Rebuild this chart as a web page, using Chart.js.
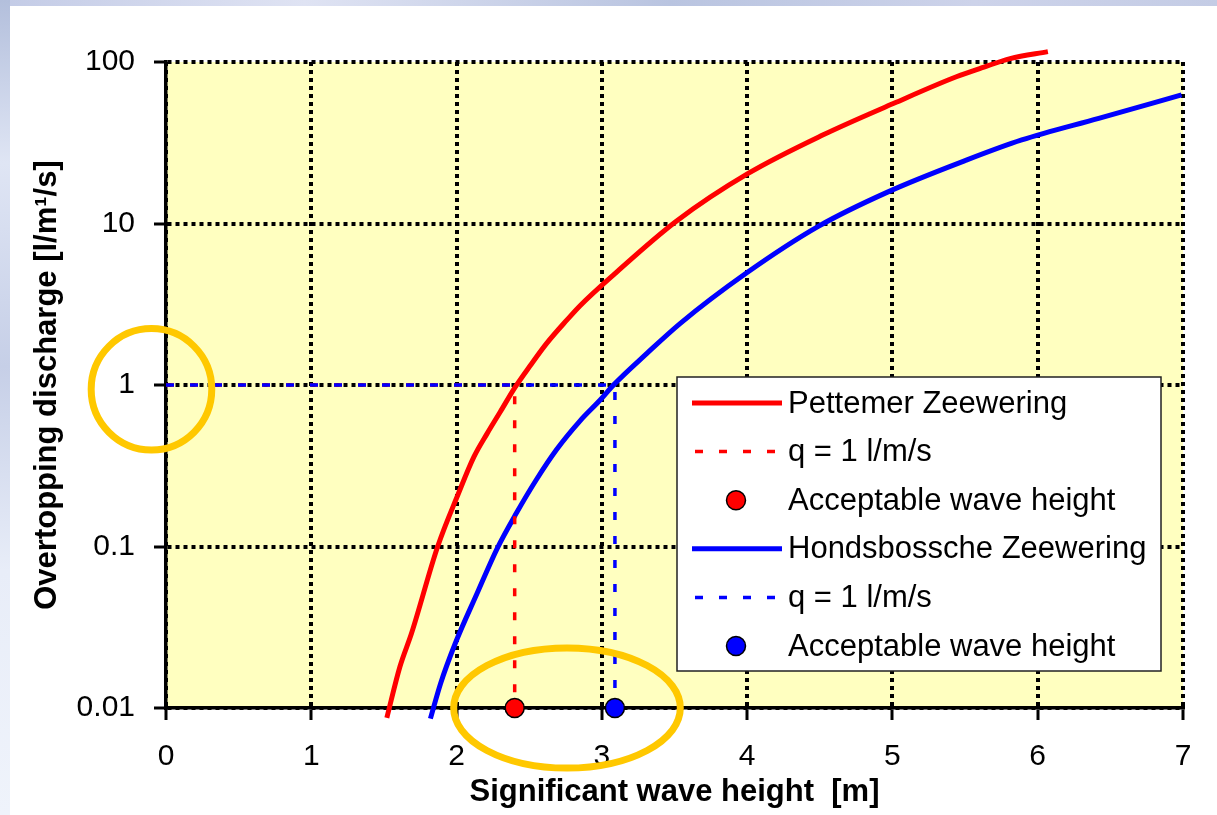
<!DOCTYPE html>
<html>
<head>
<meta charset="utf-8">
<title>Overtopping discharge</title>
<script src="https://cdn.jsdelivr.net/npm/chart.js@4.4.1/dist/chart.umd.min.js"></script>
<style>
  html, body { margin: 0; padding: 0; background: #fff; }
  body { width: 1217px; height: 815px; position: relative; overflow: hidden; }
  #top { position: absolute; left: 0; top: 0; width: 1217px; height: 6px;
    background: linear-gradient(90deg, #c3cbe6, #dfe3f3 25%, #b9c4e0 55%, #cdd3ea 80%, #c4cce5); }
  #left { position: absolute; left: 0; top: 0; width: 10px; height: 815px;
    background: linear-gradient(180deg, #b3bfdc, #dfe5f4 20%, #c6cfe7 45%, #e8edf8 70%, #eff3fb); }
  canvas { position: absolute; left: 0; top: 0; }
</style>
</head>
<body>
<div id="top"></div><div id="left"></div>
<canvas id="chart" width="1217" height="815"></canvas>
<script>
const FONT = '"Liberation Sans", Arial, sans-serif';

// axes
const heightMin = 0;
const heightMax = 7;
const dischargeTicks = [0.01, 0.1, 1, 10, 100];
const dischargeLabels = ['0.01', '0.1', '1', '10', '100'];

// Pettemer Zeewering: wave height [m] vs discharge [l/m/s]
const pettemerHs = [1.52, 1.61, 1.69, 1.87, 2.01, 2.12, 2.21, 2.30, 2.40, 2.51, 2.62, 2.76, 2.85, 3.09, 3.51, 4.01, 4.52, 5.01, 5.44, 5.63, 5.81, 6.07];
const pettemerQ  = [0.0087, 0.018, 0.029, 0.10, 0.21, 0.36, 0.50, 0.68, 0.96, 1.33, 1.81, 2.53, 3.1, 4.9, 10.3, 20.5, 35.3, 55.5, 81, 93, 105, 116];

// Hondsbossche Zeewering
const hondsHs = [1.82, 1.89, 1.99, 2.14, 2.28, 2.41, 2.55, 2.69, 2.85, 2.99, 3.08, 3.31, 3.54, 3.99, 4.49, 4.97, 5.50, 5.89, 6.42, 6.99];
const hondsQ  = [0.0086, 0.0142, 0.025, 0.051, 0.0975, 0.16, 0.26, 0.40, 0.60, 0.81, 1.0, 1.57, 2.41, 4.9, 9.6, 15.7, 24.5, 32.9, 44.8, 62.5];

// q = 1 l/m/s limit and acceptable wave heights
const qLimit = 1;
const axisFloor = 0.01;
const pettemerAccepted = 2.40;
const hondsAccepted = 3.09;

// highlight rings: centre (x in m, y in l/m/s), radii (x in m, y in decades)
const rings = [
  { x: -0.10, y: 0.94, rx: 0.415, ry: 0.376 },
  { x: 2.76, y: 0.01, rx: 0.78, ry: 0.372 },
];

const toPoints = (xs, ys) => xs.map((x, i) => ({ x, y: ys[i] }));
const limitPath = h => [{ x: heightMin, y: qLimit }, { x: h, y: qLimit }, { x: h, y: axisFloor }];

const curve = (label, color, xs, ys) => ({
  label, data: toPoints(xs, ys),
  borderColor: color, borderWidth: 5, pointRadius: 0,
  cubicInterpolationMode: 'monotone', order: 3,
  clip: { left: 0, top: 15, right: 0, bottom: 12 },
});
const limit = (color, h, order) => ({
  label: 'q = 1 l/m/s', data: limitPath(h),
  borderColor: color, borderWidth: 3.5, borderDash: [8, 16], pointRadius: 0, order,
});
const dot = (color, h) => ({
  label: 'Acceptable wave height', data: [{ x: h, y: axisFloor }],
  showLine: false, pointRadius: 9.5, pointHoverRadius: 9.5, pointBorderWidth: 1.5,
  borderColor: '#000', backgroundColor: color, order: 0, clip: false,
});

const plotBackground = {
  id: 'plotBackground',
  beforeDraw(chart) {
    const { ctx, chartArea: a } = chart;
    ctx.save();
    ctx.fillStyle = '#FFFFC0';
    ctx.fillRect(a.left, a.top, a.right - a.left, a.bottom - a.top);
    ctx.restore();
  },
};

const overlay = {
  id: 'overlay',
  afterDraw(chart) {
    const { ctx } = chart;
    const xs = chart.scales.x, ys = chart.scales.y;

    // legend box
    const box = { left: 677, top: 377, width: 484, height: 294 };
    ctx.save();
    ctx.fillStyle = '#fff';
    ctx.fillRect(box.left, box.top, box.width, box.height);
    ctx.strokeStyle = '#222';
    ctx.lineWidth = 1.5;
    ctx.strokeRect(box.left, box.top, box.width, box.height);

    ctx.font = '31px ' + FONT;
    ctx.textBaseline = 'middle';
    chart.data.datasets.forEach((ds, i) => {
      const y = 403 + i * 48.6;
      if (ds.showLine === false) {
        ctx.beginPath();
        ctx.arc(736, y, 9.5, 0, Math.PI * 2);
        ctx.fillStyle = ds.backgroundColor;
        ctx.fill();
        ctx.lineWidth = 1.5;
        ctx.strokeStyle = '#000';
        ctx.stroke();
      } else {
        ctx.beginPath();
        ctx.strokeStyle = ds.borderColor;
        ctx.lineWidth = ds.borderWidth;
        if (ds.borderDash) {
          ctx.setLineDash(ds.borderDash);
          ctx.moveTo(695, y);
          ctx.lineTo(783, y);
        } else {
          ctx.moveTo(692, y);
          ctx.lineTo(782, y);
        }
        ctx.stroke();
        ctx.setLineDash([]);
      }
      ctx.fillStyle = '#000';
      ctx.fillText(ds.label, 788, y + 1);
    });

    // highlight rings
    ctx.strokeStyle = '#FFC800';
    ctx.lineWidth = 7;
    rings.forEach(r => {
      const cx = xs.getPixelForValue(r.x);
      const cy = ys.getPixelForValue(r.y);
      const rx = xs.getPixelForValue(r.x + r.rx) - cx;
      const ry = cy - ys.getPixelForValue(r.y * Math.pow(10, r.ry));
      ctx.beginPath();
      ctx.ellipse(cx, cy, rx, ry, 0, 0, Math.PI * 2);
      ctx.stroke();
    });
    ctx.restore();
  },
};

const gridStyle = {
  color: '#000', lineWidth: 4,
  tickLength: 12, tickWidth: 3, tickColor: '#000', tickBorderDash: [],
};
const borderStyle = { display: true, color: '#000', width: 3.5, dash: [4, 4] };

new Chart(document.getElementById('chart'), {
  type: 'line',
  data: {
    datasets: [
      curve('Pettemer Zeewering', '#FF0000', pettemerHs, pettemerQ),
      limit('#FF0000', pettemerAccepted, 2),
      dot('#FF0000', pettemerAccepted),
      curve('Hondsbossche Zeewering', '#0000FF', hondsHs, hondsQ),
      limit('#0000FF', hondsAccepted, 1),
      dot('#0000FF', hondsAccepted),
    ],
  },
  options: {
    responsive: false,
    devicePixelRatio: 1,
    animation: false,
    layout: { padding: { left: 0, top: 62, right: 34, bottom: 0 } },
    plugins: { legend: { display: false }, tooltip: { enabled: false } },
    scales: {
      x: {
        type: 'linear', min: heightMin, max: heightMax,
        afterFit: s => { s.height = 107; },
        ticks: { stepSize: 1, color: '#000', font: { family: FONT, size: 30 }, padding: 19 },
        grid: gridStyle,
        border: borderStyle,
        title: {
          display: true, text: 'Significant wave height  [m]', color: '#000',
          font: { family: FONT, size: 31, weight: 'bold' }, padding: { top: 0, bottom: 4 },
        },
      },
      y: {
        type: 'logarithmic', min: dischargeTicks[0], max: dischargeTicks[dischargeTicks.length - 1],
        afterBuildTicks: s => { s.ticks = dischargeTicks.map(v => ({ value: v })); },
        afterFit: s => { s.width = 166; },
        ticks: {
          autoSkip: false, color: '#000', font: { family: FONT, size: 30 }, padding: 19,
          callback: v => dischargeLabels[dischargeTicks.indexOf(v)] ?? '',
        },
        grid: gridStyle,
        border: borderStyle,
        title: {
          display: true, text: 'Overtopping discharge [l/m\u00B9/s]', color: '#000',
          font: { family: FONT, size: 31, weight: 'bold' }, padding: { top: 29, bottom: 0 },
        },
      },
    },
  },
  plugins: [plotBackground, overlay],
});
</script>
</body>
</html>
